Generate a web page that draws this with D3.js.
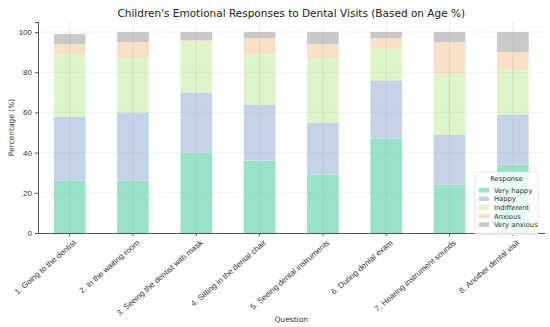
<!DOCTYPE html>
<html>
<head>
<meta charset="utf-8">
<script src="https://cdn.jsdelivr.net/npm/d3@7"></script>
<style>
  body { margin: 0; background: #fff; }
  svg { font-family: "DejaVu Sans", sans-serif; }
</style>
</head>
<body>
<svg id="chart" width="550" height="327"></svg>
<script>
// data
const questions = [
  "1. Going to the dentist",
  "2. In the waiting room",
  "3. Seeing the dentist with mask",
  "4. Sitting in the dental chair",
  "5. Seeing dental instruments",
  "6. During dental exam",
  "7. Hearing instrument sounds",
  "8. Another dental visit"
];
const responses = ["Very happy", "Happy", "Indifferent", "Anxious", "Very anxious"];
const veryHappy = [26, 26, 40, 36, 29, 47, 24, 34];
const happy = [32, 34, 30, 28, 26, 29, 25, 25];
const indifferent = [31, 27, 25, 25, 32, 16, 30, 22];
const anxious = [5, 8, 1, 8, 7, 5, 16, 9];
const veryAnxious = [5, 5, 4, 3, 6, 3, 5, 10];
const yTicks = [0, 20, 40, 60, 80, 100];

const colors = ["#98e3c8", "#c5d3e9", "#def5c9", "#f8dfc6", "#c9c9c9"];

const svg = d3.select("#chart");
const margin = { left: 38, right: 5.5, top: 22, bottom: 94 };
const width = 550, height = 327;

const rows = questions.map((q, i) => ({
  question: q,
  "Very happy": veryHappy[i],
  "Happy": happy[i],
  "Indifferent": indifferent[i],
  "Anxious": anxious[i],
  "Very anxious": veryAnxious[i]
}));
const series = d3.stack().keys(responses)(rows);

const x = d3.scaleBand()
  .domain(questions)
  .range([margin.left, width - margin.right])
  .paddingInner(0.5)
  .paddingOuter(0.25);

const y = d3.scaleLinear()
  .domain([0, 105])
  .range([height - margin.bottom, margin.top]);

// bars
svg.append("g")
  .selectAll("g")
  .data(series)
  .join("g")
  .attr("fill", (d, i) => colors[i])
  .selectAll("rect")
  .data(d => d)
  .join("rect")
  .attr("x", d => x(d.data.question))
  .attr("width", x.bandwidth())
  .attr("y", d => y(d[1]))
  .attr("height", d => y(d[0]) - y(d[1]));

// grid on top of bars
const grid = svg.append("g").attr("stroke", "#b0b0b0").attr("stroke-opacity", 0.35).attr("stroke-width", 0.8);
grid.selectAll("line.h")
  .data(yTicks)
  .join("line")
  .attr("class", "h")
  .attr("x1", margin.left).attr("x2", width - margin.right)
  .attr("y1", d => y(d)).attr("y2", d => y(d))
  .attr("stroke-dasharray", "1.5,1");
grid.selectAll("line.v")
  .data(questions)
  .join("line")
  .attr("class", "v")
  .attr("x1", d => x(d) + x.bandwidth() / 2).attr("x2", d => x(d) + x.bandwidth() / 2)
  .attr("y1", margin.top).attr("y2", height - margin.bottom);

// axes
const yAxis = svg.append("g")
  .attr("transform", `translate(${margin.left},0)`)
  .call(d3.axisLeft(y).tickValues(yTicks).tickSize(3).tickPadding(3));
yAxis.select(".domain").attr("stroke", "#555");
yAxis.selectAll(".tick line").attr("stroke", "#555");
yAxis.selectAll("text").attr("font-size", 8).attr("fill", "#333");

const xAxis = svg.append("g")
  .attr("transform", `translate(0,${height - margin.bottom})`)
  .call(d3.axisBottom(x).tickSize(3).tickSizeOuter(0));
xAxis.select(".domain").attr("stroke", "#555");
xAxis.selectAll(".tick line").attr("stroke", "#555");
xAxis.selectAll("text")
  .attr("font-size", 8)
  .attr("fill", "#333")
  .attr("text-anchor", "end")
  .attr("dy", 0)
  .attr("transform", "translate(3,6) rotate(-41)");

// titles
svg.append("text")
  .attr("x", (margin.left + width - margin.right) / 2)
  .attr("y", 17)
  .attr("text-anchor", "middle")
  .attr("font-size", 10.5)
  .attr("fill", "#222")
  .text("Children's Emotional Responses to Dental Visits (Based on Age %)");

svg.append("text")
  .attr("x", (margin.left + width - margin.right) / 2)
  .attr("y", 322)
  .attr("text-anchor", "middle")
  .attr("font-size", 7.5)
  .attr("fill", "#333")
  .text("Question");

svg.append("text")
  .attr("transform", `translate(14,${(y(0) + y(105)) / 2}) rotate(-90)`)
  .attr("text-anchor", "middle")
  .attr("font-size", 7.5)
  .attr("fill", "#333")
  .text("Percentage (%)");

// legend
const lg = svg.append("g").attr("transform", "translate(475,172)");
lg.append("rect")
  .attr("width", 63).attr("height", 63).attr("rx", 2)
  .attr("fill", "#fff").attr("fill-opacity", 0.8)
  .attr("stroke", "#ddd").attr("stroke-width", 0.8);
lg.append("text")
  .attr("x", 31.5).attr("y", 9)
  .attr("text-anchor", "middle")
  .attr("font-size", 6.8).attr("fill", "#333")
  .text("Response");
const items = lg.selectAll("g.item")
  .data(responses)
  .join("g")
  .attr("class", "item")
  .attr("transform", (d, i) => `translate(4,${16 + i * 8.6})`);
items.append("rect")
  .attr("width", 10).attr("height", 4.5)
  .attr("fill", (d, i) => colors[i]);
items.append("text")
  .attr("x", 15).attr("y", 4.8)
  .attr("font-size", 6.8).attr("fill", "#333")
  .text(d => d);
</script>
</body>
</html>
